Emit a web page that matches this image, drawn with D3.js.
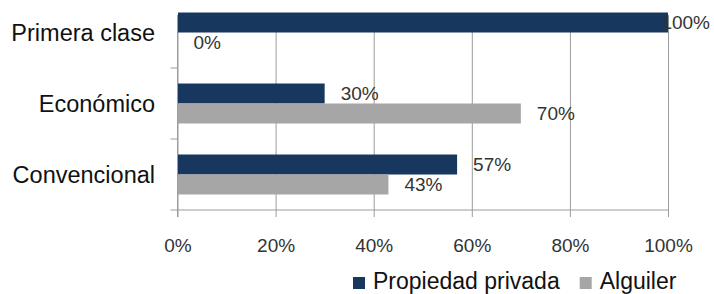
<!DOCTYPE html>
<html>
<head>
<meta charset="utf-8">
<script src="https://cdn.jsdelivr.net/npm/d3@7"></script>
<style>
  body { margin: 0; background: #fff; }
  svg { display: block; font-family: "Liberation Sans", Arial, sans-serif; }
</style>
</head>
<body>
<div class="chart"></div>
<script>
// Data
const categories = ['Primera clase', 'Económico', 'Convencional'];
const series = ['Propiedad privada', 'Alguiler'];
const propiedad = [100, 30, 57];
const alquiler = [0, 70, 43];
const xTicks = [0, 20, 40, 60, 80, 100];
const colors = ['#17375e', '#a6a6a6'];

// Sizes
const width = 714;
const height = 294;
const plot = {left: 177.5, right: 668, top: 15, bottom: 210};

const svg = d3.select('.chart').append('svg')
    .attr('width', width)
    .attr('height', height);

const rows = categories.map((c, i) => ({category: c, values: [propiedad[i], alquiler[i]]}));

// Scales
const xScale = d3.scaleLinear()
    .domain([0, 100])
    .range([plot.left, plot.right]);
const yScale = d3.scaleBand()
    .domain(categories)
    .range([-3, plot.bottom])
    .paddingInner(0.437)
    .paddingOuter(0.2185);
const subScale = d3.scaleBand()
    .domain(series)
    .range([0, yScale.bandwidth()]);
const colorScale = d3.scaleOrdinal()
    .domain(series)
    .range(colors);

const gridColor = '#9c9c9c';

// Vertical gridlines + x axis
const xAxis = d3.axisBottom(xScale)
    .tickValues(xTicks)
    .tickFormat(d => d + '%')
    .tickSize(7)
    .tickPadding(22);

svg.append('g')
    .attr('transform', `translate(0, ${plot.bottom})`)
    .call(xAxis)
    .call(g => g.select('.domain').remove())
    .call(g => g.selectAll('.tick line')
        .attr('y1', plot.top - plot.bottom)
        .attr('stroke', gridColor))
    .call(g => g.selectAll('.tick text')
        .attr('fill', '#333')
        .style('font-size', '19px')
        .style('font-family', '"Liberation Sans", Arial, sans-serif'));

// x axis line
svg.append('line')
    .attr('x1', plot.left - 7).attr('x2', plot.right)
    .attr('y1', plot.bottom).attr('y2', plot.bottom)
    .attr('stroke', gridColor);

// y axis line with category boundary ticks
const step = yScale.step();
const boundaries = categories.map((c, i) => yScale(c) - yScale.paddingInner() * step / 2 + step).slice(0, categories.length - 1);
svg.append('line')
    .attr('x1', plot.left).attr('x2', plot.left)
    .attr('y1', plot.top).attr('y2', plot.bottom + 7)
    .attr('stroke', gridColor);
svg.append('g')
    .selectAll('line')
    .data(boundaries)
    .join('line')
        .attr('x1', plot.left - 7).attr('x2', plot.left)
        .attr('y1', d => d).attr('y2', d => d)
        .attr('stroke', gridColor);

// Category labels
svg.append('g')
    .selectAll('text')
    .data(categories)
    .join('text')
        .attr('x', 155)
        .attr('y', d => yScale(d) + yScale.bandwidth() / 2)
        .attr('dy', '0.35em')
        .attr('text-anchor', 'end')
        .attr('fill', '#111')
        .style('font-size', '23.5px')
        .text(d => d);

// Bars
const groups = svg.append('g')
    .selectAll('g')
    .data(rows)
    .join('g')
        .attr('transform', d => `translate(0, ${yScale(d.category)})`);

groups.selectAll('rect')
    .data(d => d.values.map((v, i) => ({key: series[i], value: v})))
    .join('rect')
        .attr('x', xScale(0) + 0.5)
        .attr('y', d => subScale(d.key))
        .attr('width', d => Math.max(0, xScale(d.value) - xScale(0) - 0.5))
        .attr('height', subScale.bandwidth())
        .attr('fill', d => colorScale(d.key));

// Value labels
groups.selectAll('text')
    .data(d => d.values.map((v, i) => ({key: series[i], value: v})))
    .join('text')
        .attr('y', d => subScale(d.key) + subScale.bandwidth() / 2)
        .attr('dy', '0.35em')
        .attr('fill', '#333')
        .style('font-size', '19px')
        .text(d => d.value + '%')
        .attr('x', function(d) {
            const w = this.getComputedTextLength();
            return Math.min(xScale(d.value) + 16, width - 4 - w);
        });

// Legend
const legend = svg.append('g').attr('transform', 'translate(353, 277)');
let lx = 0;
series.forEach(s => {
    legend.append('rect')
        .attr('x', lx).attr('y', 0)
        .attr('width', 12).attr('height', 12)
        .attr('fill', colorScale(s));
    const t = legend.append('text')
        .attr('x', lx + 20)
        .attr('y', 12)
        .attr('fill', '#111')
        .style('font-size', '23px')
        .text(s);
    lx += 20 + t.node().getComputedTextLength() + 20;
});
</script>
</body>
</html>
